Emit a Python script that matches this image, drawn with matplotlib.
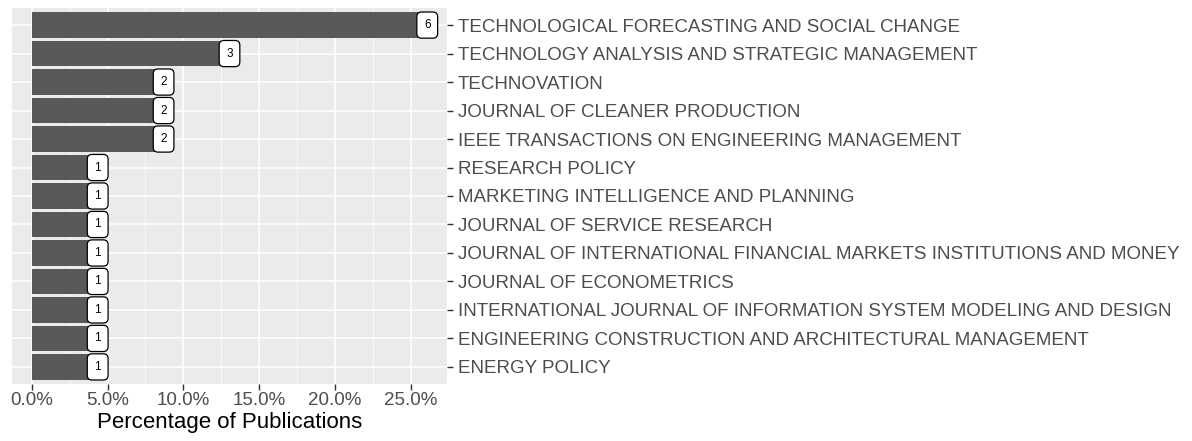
import matplotlib.pyplot as plt
import numpy as np
from matplotlib.ticker import FuncFormatter, MultipleLocator

plt.rcParams['font.family'] = ['Liberation Sans', 'DejaVu Sans']

journals = [
    "TECHNOLOGICAL FORECASTING AND SOCIAL CHANGE",
    "TECHNOLOGY ANALYSIS AND STRATEGIC MANAGEMENT",
    "TECHNOVATION",
    "JOURNAL OF CLEANER PRODUCTION",
    "IEEE TRANSACTIONS ON ENGINEERING MANAGEMENT",
    "RESEARCH POLICY",
    "MARKETING INTELLIGENCE AND PLANNING",
    "JOURNAL OF SERVICE RESEARCH",
    "JOURNAL OF INTERNATIONAL FINANCIAL MARKETS INSTITUTIONS AND MONEY",
    "JOURNAL OF ECONOMETRICS",
    "INTERNATIONAL JOURNAL OF INFORMATION SYSTEM MODELING AND DESIGN",
    "ENGINEERING CONSTRUCTION AND ARCHITECTURAL MANAGEMENT",
    "ENERGY POLICY",
]
counts = [6, 3, 2, 2, 2, 1, 1, 1, 1, 1, 1, 1, 1]

pct = np.array(counts) / sum(counts) * 100
ypos = np.arange(len(journals))[::-1]

fig = plt.figure(figsize=(11.92, 4.41), dpi=100)
ax = fig.add_axes([12/1192, 1 - 384/441, 435/1192, 376/441])
ax.set_facecolor('#EBEBEB')

ax.barh(ypos, pct, height=0.9, color='#595959', zorder=3)
for y, p, c in zip(ypos, pct, counts):
    ax.text(p, y, str(c), ha='center', va='center', fontsize=8.5, zorder=4,
            bbox=dict(boxstyle='round,pad=0.6,rounding_size=0.4', fc='white', ec='black', lw=0.9))

xmax = pct.max()
ax.set_xlim(-0.05 * xmax, xmax * 1.05)
ax.set_ylim(-0.6, len(journals) - 0.4)

ax.xaxis.set_major_locator(MultipleLocator(5))
ax.xaxis.set_minor_locator(MultipleLocator(2.5))
ax.xaxis.set_major_formatter(FuncFormatter(lambda v, _: f"{v:.1f}%"))
ax.set_yticks(ypos)
ax.set_yticklabels(journals)
ax.yaxis.tick_right()

ax.grid(True, which='major', color='white', lw=1.1, zorder=1)
ax.grid(True, which='minor', axis='x', color='white', lw=0.5, zorder=1)
ax.tick_params(axis='x', which='minor', length=0)
ax.tick_params(axis='both', which='major', length=4, width=1, color='#333333',
               labelcolor='#4D4D4D', labelsize=13.5, pad=4)
ax.tick_params(axis='x', pad=2)
for s in ax.spines.values():
    s.set_visible(False)

ax.set_xlabel("Percentage of Publications", fontsize=16, labelpad=2)

fig.savefig("out.png", dpi=100)
